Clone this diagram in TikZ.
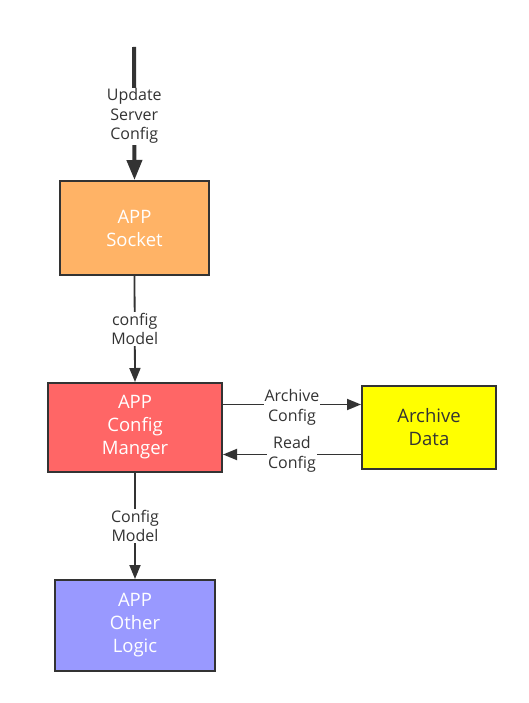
\documentclass[tikz,border=0pt]{standalone}
\usepackage{fontspec}
\setmainfont{Open Sans}
\usetikzlibrary{arrows.meta}
\definecolor{lc}{HTML}{333333}
\definecolor{cSock}{HTML}{FFB366}
\definecolor{cMgr}{HTML}{FF6666}
\definecolor{cArc}{HTML}{FFFF00}
\definecolor{cOth}{HTML}{9999FF}
\tikzset{
  box/.style={draw=lc, line width=2pt, align=center, inner sep=0pt, font=\fontsize{18.5}{23}\selectfont},
  conn/.style={draw=lc, line width=1.8pt, -{Triangle[length=14pt,width=11pt]}},
  lbl/.style={fill=white, align=center, inner sep=1pt, text=lc, font=\fontsize{16}{19.5}\selectfont},
}
\begin{document}
\begin{tikzpicture}[x=1pt,y=-1pt]
\useasboundingbox (0,0) rectangle (528,703);
\node[box, fill=cSock, text=white, minimum width=149pt, minimum height=94pt] (sock) at (134.5,228) {APP\\Socket};
\node[box, fill=cMgr, text=white, minimum width=174pt, minimum height=89pt] (mgr) at (135,427.5) {APP\\Config\\Manger};
\node[box, fill=cArc, text=lc, minimum width=134pt, minimum height=83pt] (arc) at (429,427.5) {Archive\\Data};
\node[box, fill=cOth, text=white, minimum width=160pt, minimum height=91pt] (oth) at (135,625.5) {APP\\Other\\Logic};
\coordinate (top) at (134,47);
\draw[conn, line width=4pt, -{Triangle[length=20pt,width=15pt]}] (top) -- (sock.north) node[lbl, pos=0.52] {Update\\Server\\Config};
\draw[conn] (sock.south) -- (mgr.north) node[lbl, midway] {config\\Model};
\draw[conn] (mgr.south) -- (oth.north) node[lbl, midway] {Config\\Model};
\draw[conn] ([yshift=23pt]mgr.east) -- ([yshift=23pt]arc.west) node[lbl, pos=0.5, yshift=-3pt] {Archive\\Config};
\draw[conn] ([yshift=-27pt]arc.west) -- ([yshift=-27pt]mgr.east) node[lbl, pos=0.5] {Read\\Config};
\end{tikzpicture}
\end{document}
